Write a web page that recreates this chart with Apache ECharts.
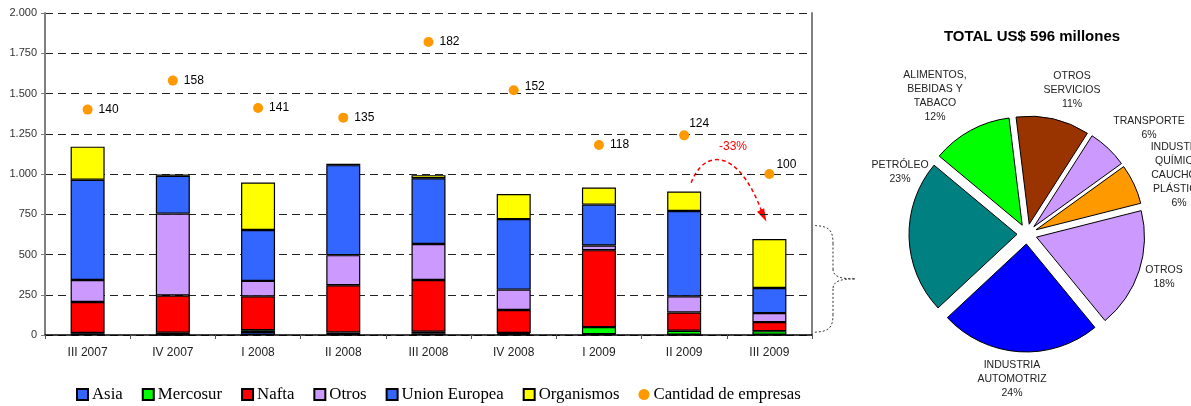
<!DOCTYPE html>
<html>
<head>
<meta charset="utf-8">
<script src="https://cdn.jsdelivr.net/npm/echarts@6/dist/echarts.min.js"></script>
<style>
  html, body { margin: 0; padding: 0; background: #fff; }
  #chart { width: 1191px; height: 406px; }
</style>
</head>
<body>
<div id="chart"></div>
<script>
// Quarterly investment by origin (US$ millones) and number of companies
const categories = ['III 2007', 'IV 2007', 'I 2008', 'II 2008', 'III 2008', 'IV 2008', 'I 2009', 'II 2009', 'III 2009'];
const asia         = [10, 0, 18, 4, 8, 5, 5, 2, 2];
const mercosur     = [2, 14, 12, 12, 12, 7, 44, 24, 22];
const nafta        = [193, 231, 210, 293, 322, 143, 478, 114, 56];
const otros        = [137, 509, 96, 187, 223, 127, 29, 100, 56];
const unionEuropea = [622, 235, 316, 559, 409, 438, 254, 530, 156];
const organismos   = [206, 8, 295, 9, 19, 156, 106, 121, 304];
const empresas     = [140, 158, 141, 135, 182, 152, 118, 124, 100];
const yTicks       = [0, 250, 500, 750, 1000, 1250, 1500, 1750, 2000];

// Sector breakdown of the last quarter (%)
const sectorNames  = ['OTROS\nSERVICIOS', 'TRANSPORTE', 'INDUSTRIA\nQUÍMICA,\nCAUCHO Y\nPLÁSTICO', 'OTROS', 'INDUSTRIA\nAUTOMOTRIZ', 'PETRÓLEO', 'ALIMENTOS,\nBEBIDAS Y\nTABACO'];
const sectorShares = [11, 6, 6, 18, 24, 23, 12];
const pieTitle = 'TOTAL US$ 596 millones';
const changeLabel = '-33%';

const sectorColors = ['#993300', '#CC99FF', '#FF9900', '#CC99FF', '#0000FF', '#008080', '#00FF00'];
// label anchor points around the pie (pixel positions)
const sectorLabelPos = [[1072, 90], [1149, 128], [1179, 175], [1164, 277], [1012, 379], [900, 172], [935, 96]];

const SANS = 'Liberation Sans, Arial, sans-serif';
const SERIF = 'Liberation Serif, Times New Roman, serif';

function thousands(v) {
  if (v < 1000) return String(v);
  return Math.floor(v / 1000) + '.' + String(v % 1000).padStart(3, '0');
}

function barSeries(name, data, color) {
  return {
    name: name, type: 'bar', stack: 'total', data: data, barWidth: 34,
    itemStyle: { color: color, borderColor: '#000', borderWidth: 1.2 },
    emphasis: { disabled: true }
  };
}

const labelTweaks = { 7: { position: 'top', offset: [15, 5] }, 8: { position: 'top', offset: [17, 8] }, 5: { position: 'right', offset: [0, -4] } };

const option = {
  animation: false,
  textStyle: { fontFamily: SANS },
  title: {
    text: pieTitle, left: 1027, top: 24, textAlign: 'center',
    textStyle: { fontFamily: SANS, fontSize: 15, fontWeight: 'bold', color: '#000' }
  },
  legend: {
    left: 76, top: 386, padding: 0, itemWidth: 11, itemHeight: 11, itemGap: 19,
    textStyle: { fontFamily: SERIF, fontSize: 16.8, lineHeight: 17, color: '#000', padding: [0, 0, 0, -1] },
    data: [
      { name: 'Asia', icon: 'rect' }, { name: 'Mercosur', icon: 'rect' }, { name: 'Nafta', icon: 'rect' },
      { name: 'Otros', icon: 'rect' }, { name: 'Union Europea', icon: 'rect' }, { name: 'Organismos', icon: 'rect' },
      { name: 'Cantidad de empresas', icon: 'circle' }
    ]
  },
  grid: { left: 45, right: 379, top: 13, bottom: 71 },
  xAxis: {
    type: 'category', data: categories, boundaryGap: true,
    axisLine: { lineStyle: { color: '#000', width: 1.5 } },
    axisTick: { show: true, length: 4, lineStyle: { color: '#555' } },
    axisLabel: { fontFamily: SANS, fontSize: 12, color: '#222', margin: 12 }
  },
  yAxis: [{
    type: 'value', min: 0, max: 2000, interval: 250,
    axisLine: { show: true, lineStyle: { color: '#808080', width: 2 } },
    axisTick: { show: true, length: 4, lineStyle: { color: '#808080' } },
    axisLabel: { fontFamily: SANS, fontSize: 11, color: '#333', margin: 8,
      formatter: function (v) { return yTicks.indexOf(v) >= 0 ? thousands(v) : ''; } },
    splitLine: { show: true, lineStyle: { color: '#222', width: 1, type: [8, 5] } }
  }, {
    type: 'value', min: 0, max: 200, position: 'right',
    axisLine: { show: true, lineStyle: { color: '#808080', width: 2 } },
    axisTick: { show: false }, axisLabel: { show: false }, splitLine: { show: false }
  }],
  series: [
    barSeries('Asia', asia, '#3366FF'),
    barSeries('Mercosur', mercosur, '#00FF00'),
    barSeries('Nafta', nafta, '#FF0000'),
    barSeries('Otros', otros, '#CC99FF'),
    barSeries('Union Europea', unionEuropea, '#3366FF'),
    barSeries('Organismos', organismos, '#FFFF00'),
    {
      name: 'Cantidad de empresas', type: 'scatter', yAxisIndex: 1,
      symbol: 'circle', symbolSize: 10,
      itemStyle: { color: '#FF9900', opacity: 1 },
      data: empresas.map(function (v, i) {
        const t = labelTweaks[i];
        return t ? { value: v, label: t } : v;
      }),
      label: { show: true, position: 'right', distance: 6, fontFamily: SANS, fontSize: 12, color: '#000',
        formatter: function (p) { return p.value; } },
      emphasis: { disabled: true }
    },
    {
      name: 'Sectores', type: 'pie', center: [1027, 234], radius: 108,
      startAngle: 97, clockwise: true,
      selectedMode: 'multiple', selectedOffset: 10,
      data: sectorNames.map(function (n, i) {
        return { name: n, value: sectorShares[i], selected: true, itemStyle: { color: sectorColors[i] } };
      }),
      itemStyle: { borderColor: '#000', borderWidth: 1 },
      label: { show: false },
      labelLine: { show: false },
      emphasis: { disabled: true }
    }
  ]
};

const chart = echarts.init(document.getElementById('chart'), null, { renderer: 'canvas' });
chart.setOption(option);

// Annotations: dashed curved arrow with the quarterly change, and a brace next to the last bar
const from = chart.convertToPixel({ xAxisIndex: 0, yAxisIndex: 0 }, [7, 945]);
const to = chart.convertToPixel({ xAxisIndex: 0, yAxisIndex: 0 }, [8, 705]);
const sx = from[0] + 7, sy = from[1];
const ex = to[0] - 3, ey = to[1];
const dirX = 0.45, dirY = 0.89, headLen = 13, headHalf = 4;
const bx = ex - dirX * headLen, by = ey - dirY * headLen;
const braceTop = chart.convertToPixel({ xAxisIndex: 0, yAxisIndex: 0 }, [8, 680]);
const braceBot = chart.convertToPixel({ xAxisIndex: 0, yAxisIndex: 0 }, [8, 17]);
const bxl = 811, bxm = 833, bxr = 855;
const bt = braceTop[1], bb = braceBot[1], bm = (bt + bb) / 2;
const braceStyle = { stroke: '#333', lineWidth: 1, lineDash: [2, 2], fill: null };

function curve(x1, y1, c1x, c1y, c2x, c2y, x2, y2) {
  return { type: 'bezierCurve', silent: true,
    shape: { x1: x1, y1: y1, cpx1: c1x, cpy1: c1y, cpx2: c2x, cpy2: c2y, x2: x2, y2: y2 }, style: braceStyle };
}
function seg(x1, y1, x2, y2) {
  return { type: 'line', silent: true, shape: { x1: x1, y1: y1, x2: x2, y2: y2 }, style: braceStyle };
}

// Sector labels (name and share) placed around the exploded pie
const sectorLabels = sectorNames.map(function (n, i) {
  return {
    type: 'text', silent: true, x: sectorLabelPos[i][0], y: sectorLabelPos[i][1],
    style: { text: n + '\n' + sectorShares[i] + '%', fill: '#222', font: '10.5px ' + SANS,
      lineHeight: 14, align: 'center', verticalAlign: 'middle' }
  };
});

option.graphic = [
  {
    type: 'bezierCurve', silent: true,
    shape: { x1: sx, y1: sy, cpx1: sx + 12, cpy1: sy - 33, cpx2: sx + 46, cpy2: sy - 37, x2: bx + 1, y2: by + 1 },
    style: { stroke: '#FF0000', lineWidth: 1.5, lineDash: [4, 3], fill: null }
  },
  {
    type: 'polygon', silent: true,
    shape: { points: [[ex, ey], [bx - dirY * headHalf, by + dirX * headHalf], [bx + dirY * headHalf, by - dirX * headHalf]] },
    style: { fill: '#FF0000' }
  },
  {
    type: 'text', silent: true, x: 733, y: 147,
    style: { text: changeLabel, fill: '#FF0000', font: '12px ' + SANS, align: 'center', verticalAlign: 'middle' }
  },
  curve(bxl, bt, bxl + 18, bt, bxm, bt + 4, bxm, bt + 18),
  seg(bxm, bt + 18, bxm, bm - 10),
  curve(bxm, bm - 10, bxm, bm - 2, bxm + 8, bm, bxr, bm),
  curve(bxr, bm, bxm + 8, bm, bxm, bm + 2, bxm, bm + 10),
  seg(bxm, bm + 10, bxm, bb - 18),
  curve(bxm, bb - 18, bxm, bb - 4, bxl + 18, bb, bxl, bb)
].concat(sectorLabels);
chart.setOption(option, true);
</script>
</body>
</html>
